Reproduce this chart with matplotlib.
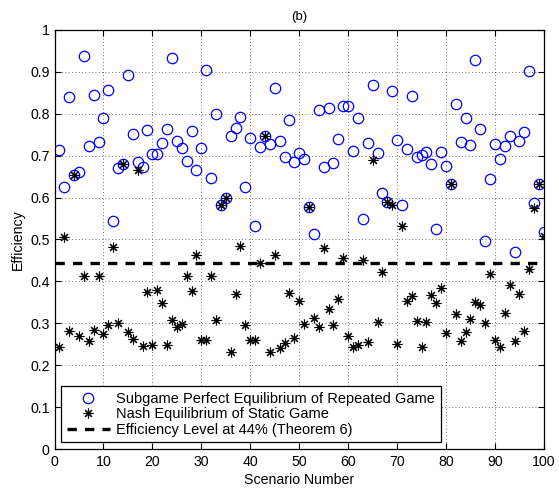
import matplotlib
matplotlib.use("Agg")
import matplotlib.pyplot as plt
import numpy as np

plt.rcParams['font.family'] = ['Liberation Sans', 'DejaVu Sans']

scenarios = list(range(1, 101))

spe = [0.713, 0.625, 0.841, 0.655, 0.660, 0.938, 0.722, 0.844, 0.733, 0.790,
       0.857, 0.544, 0.671, 0.681, 0.893, 0.752, 0.684, 0.672, 0.762, 0.705,
       0.703, 0.730, 0.763, 0.933, 0.736, 0.719, 0.687, 0.759, 0.667, 0.718,
       0.905, 0.646, 0.800, 0.582, 0.599, 0.748, 0.767, 0.793, 0.626, 0.743,
       0.533, 0.721, 0.748, 0.728, 0.861, 0.736, 0.698, 0.784, 0.684, 0.706,
       0.691, 0.577, 0.514, 0.810, 0.674, 0.813, 0.683, 0.740, 0.819, 0.819,
       0.712, 0.789, 0.548, 0.731, 0.868, 0.706, 0.611, 0.590, 0.855, 0.738,
       0.582, 0.717, 0.843, 0.698, 0.702, 0.708, 0.681, 0.524, 0.708, 0.675,
       0.632, 0.824, 0.733, 0.790, 0.725, 0.929, 0.763, 0.497, 0.645, 0.728,
       0.692, 0.722, 0.747, 0.470, 0.736, 0.756, 0.902, 0.586, 0.632, 0.519]

nash = [0.244, 0.507, 0.282, 0.655, 0.270, 0.412, 0.258, 0.284, 0.412, 0.274,
        0.295, 0.483, 0.300, 0.681, 0.280, 0.263, 0.667, 0.246, 0.375, 0.249,
        0.379, 0.348, 0.248, 0.307, 0.292, 0.298, 0.413, 0.378, 0.463, 0.259,
        0.260, 0.413, 0.307, 0.582, 0.599, 0.232, 0.371, 0.485, 0.295, 0.259,
        0.260, 0.443, 0.748, 0.231, 0.462, 0.240, 0.253, 0.373, 0.266, 0.353,
        0.298, 0.577, 0.313, 0.292, 0.480, 0.335, 0.295, 0.359, 0.456, 0.270,
        0.244, 0.249, 0.452, 0.256, 0.690, 0.304, 0.423, 0.590, 0.582, 0.250,
        0.532, 0.353, 0.365, 0.306, 0.244, 0.304, 0.368, 0.348, 0.385, 0.278,
        0.632, 0.321, 0.257, 0.279, 0.311, 0.350, 0.344, 0.300, 0.417, 0.260,
        0.244, 0.324, 0.391, 0.257, 0.371, 0.282, 0.429, 0.574, 0.632, 0.508]

threshold = 0.444
xticks = list(range(0, 101, 10))
yticks = [0, 0.1, 0.2, 0.3, 0.4, 0.5, 0.6, 0.7, 0.8, 0.9, 1]
yticklabels = ['0', '0.1', '0.2', '0.3', '0.4', '0.5', '0.6', '0.7', '0.8', '0.9', '1']

fig = plt.figure(figsize=(5.59, 4.91), dpi=100)
ax = fig.add_axes([0.0975, 0.0855, 0.8755, 0.8535])

ax.plot(scenarios, spe, linestyle='none', marker='o', markersize=7.5,
        markerfacecolor='none', markeredgecolor='#0000ff', markeredgewidth=0.9,
        label='Subgame Perfect Equilibrium of Repeated Game')
ax.plot(scenarios, nash, linestyle='none', marker=(8, 2, 0), markersize=7,
        color='black', markeredgewidth=0.8,
        label='Nash Equilibrium of Static Game')
ax.plot([0, 100], [threshold, threshold], color='black', linestyle=(0, (2.8, 2.45)),
        linewidth=2.4, label='Efficiency Level at 44% (Theorem 6)')

ax.set_xlim(0, 100)
ax.set_ylim(0, 1)
ax.set_xticks(xticks)
ax.set_yticks(yticks)
ax.set_yticklabels(yticklabels)
ax.tick_params(direction='in', top=True, right=True, labelsize=10.2, length=4, width=0.8)
ax.tick_params(axis='x', pad=4)
ax.grid(True, linestyle=(0, (1, 3)), color='#444444', linewidth=0.6)
for s in ax.spines.values():
    s.set_linewidth(0.9)

ax.set_title('(b)', fontsize=9.5, pad=7)
ax.set_xlabel('Scenario Number', fontsize=10.2, labelpad=3)
ax.set_ylabel('Efficiency', fontsize=10.2, labelpad=4)

leg = ax.legend(loc='lower left', bbox_to_anchor=(0.0, 0.0), fontsize=10.5,
                frameon=True, fancybox=False, edgecolor='black', framealpha=1,
                handlelength=3.0, handletextpad=0.4, borderpad=0.38,
                labelspacing=0.1, borderaxespad=0.45)
leg.get_frame().set_linewidth(0.9)

fig.savefig('out.png', dpi=100)
